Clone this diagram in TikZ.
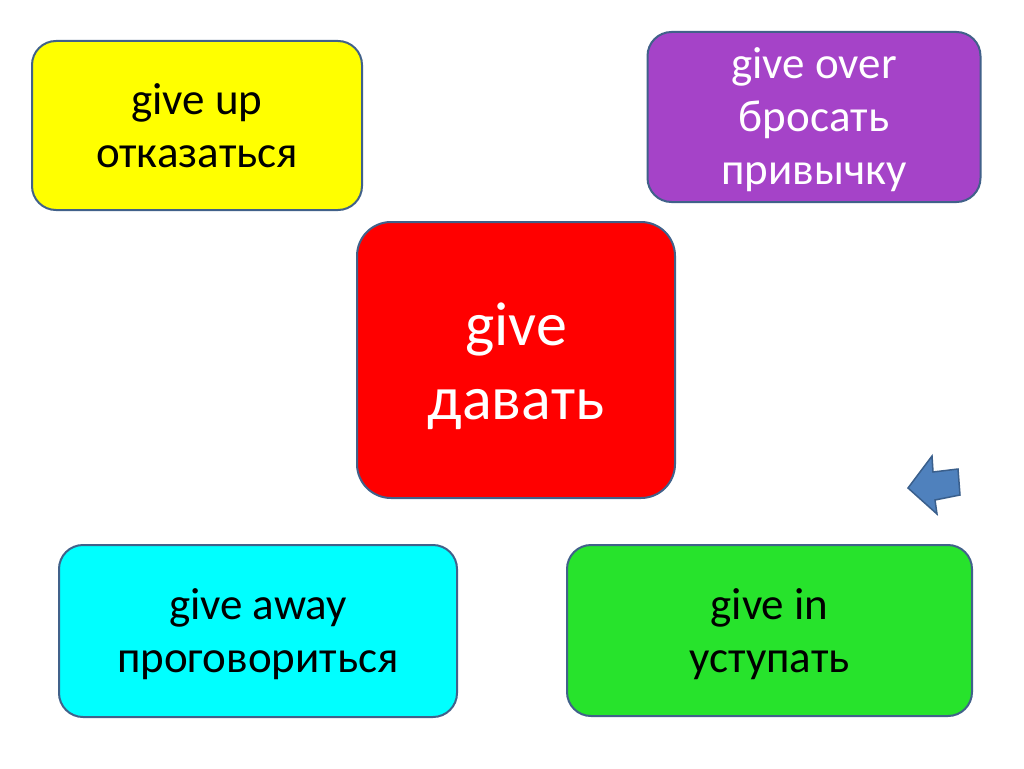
\documentclass[tikz,border=0pt]{standalone}
\usepackage{fontspec}
\setmainfont{Carlito}
\definecolor{bordc}{HTML}{41618A}
\definecolor{yel}{HTML}{FFFF00}
\definecolor{pur}{HTML}{A543C8}
\definecolor{redc}{HTML}{FF0000}
\definecolor{cya}{HTML}{00FFFF}
\definecolor{grn}{HTML}{27E32C}
\definecolor{arrf}{HTML}{4F81BD}
\definecolor{arrd}{HTML}{3A5F8C}
\tikzset{
  card/.style={rectangle, rounded corners=24pt, draw=bordc, line width=2pt,
    inner sep=0pt, align=center, font=\fontsize{45}{53}\selectfont},
}
\newcommand{\upstrut}[1]{\rule{0pt}{#1}}
\begin{document}
\begin{tikzpicture}[x=1pt,y=-1pt]
\useasboundingbox[fill=white] (0,0) rectangle (1024,768);
\node[card, fill=yel, minimum width=330pt, minimum height=169pt] (up) at (197,125.5) {give up\\отказаться};
\node[card, fill=pur, text=white, minimum width=333pt, minimum height=170pt] (over) at (814,117) {\upstrut{36pt}give over\\бросать\\привычку};
\node[card, fill=redc, text=white, rounded corners=34pt, minimum width=318pt, minimum height=276pt, font=\fontsize{62}{74}\selectfont] (give) at (516,360) {\upstrut{55pt}give\\давать};
\node[card, fill=cya, minimum width=398pt, minimum height=172pt] (away) at (258,631) {\upstrut{38pt}give away\\проговориться};
\node[card, fill=grn, minimum width=405pt, minimum height=171pt] (in) at (769.5,630.5) {\upstrut{38pt}give in\\уступать};
\draw[fill=arrf, draw=arrd, line width=1.5pt, line join=miter]
  (908,488) -- (932,456) -- (933,472) -- (958,469) -- (960,495) -- (935,500) -- (937,514) -- cycle;
\end{tikzpicture}
\end{document}
